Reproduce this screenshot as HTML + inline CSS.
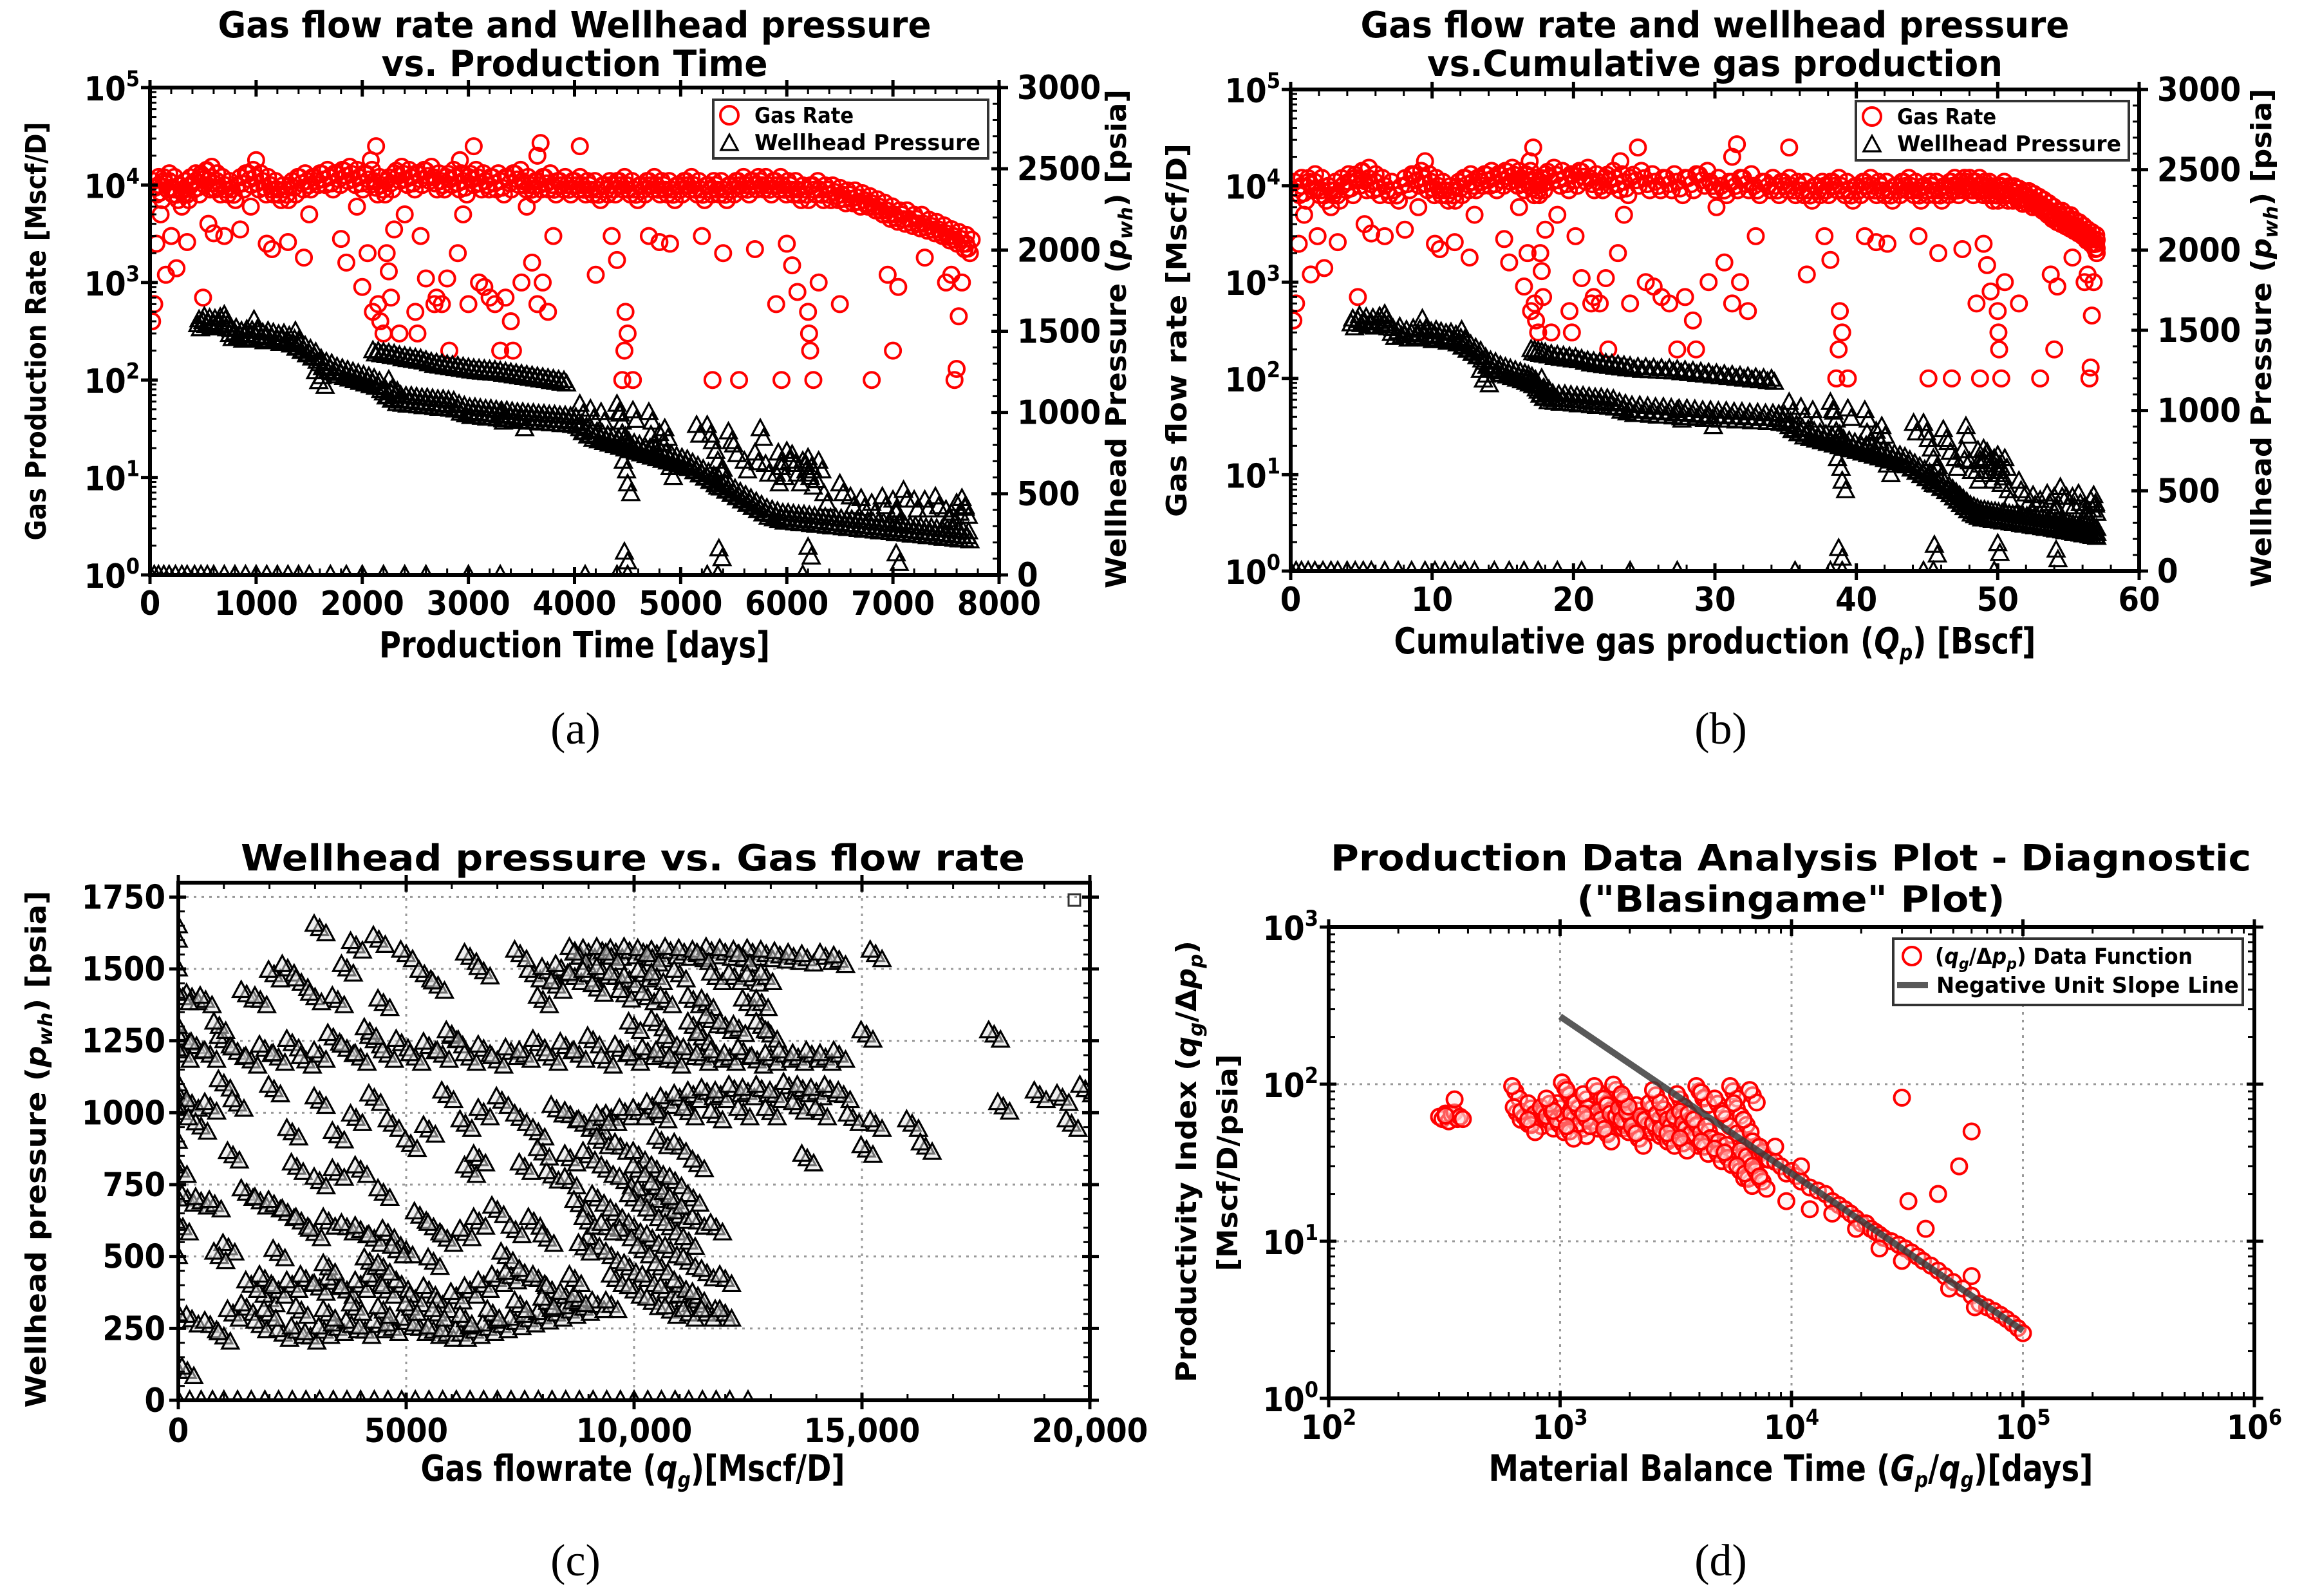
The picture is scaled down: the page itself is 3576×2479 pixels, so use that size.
<!DOCTYPE html>
<html><head><meta charset="utf-8"><title>Gas well production analysis plots</title>
<style>
html,body{margin:0;padding:0;background:#fff;}
svg{display:block;}
.tk{font-family:"DejaVu Sans Condensed","Liberation Sans Narrow","DejaVu Sans",sans-serif;font-weight:bold;font-size:52px;fill:#000;}
.ttl{font-family:"DejaVu Sans Condensed","Liberation Sans Narrow","DejaVu Sans",sans-serif;font-weight:bold;font-size:56px;fill:#000;}
.yl{font-family:"DejaVu Sans","Liberation Sans",sans-serif;font-weight:bold;font-size:44px;fill:#000;}
.lg{font-family:"DejaVu Sans Condensed","Liberation Sans Narrow","DejaVu Sans",sans-serif;font-weight:bold;font-size:34px;fill:#000;}
.cap{font-family:"Liberation Serif",serif;font-size:70px;fill:#000;}
</style></head>
<body>
<svg id="fig" xmlns="http://www.w3.org/2000/svg" width="3576" height="2479" viewBox="0 0 3576 2479">
<rect x="0" y="0" width="3576" height="2479" fill="#fff"/>
<defs>
<clipPath id="clipA"><rect x="233" y="136" width="1319" height="757"/></clipPath>
<clipPath id="clipB"><rect x="2005" y="139" width="1318" height="748"/></clipPath>
<clipPath id="clipC"><rect x="277" y="1371" width="1416" height="804"/></clipPath>
<clipPath id="clipD"><rect x="2064" y="1440" width="1438" height="732"/></clipPath>
</defs>
</svg>
<script>
// ---------- Panel (a)/(b) data: gas rate band (days, Mscf/D) ----------
const aBandDays=[30,80,130,180,230,280,330,380,430,480,530,580,630,700,770,850,920,990,1060,1130,1200,1270,1340,1410,1480,1550,1620,1690,1760,1830,1900,1970,2040,2110,2180,2250,2320,2390,2460,2530,2600,2670,2740,2810,2880,2950,3020,3090,3160,3230,3300,3370,3440,3510,3580,3650,3720,3790,3860,3930,4000,4070,4140,4210,4280,4350,4420,4490,4560,4630,4700,4770,4840,4910,4980,5050,5120,5190,5260,5330,5400,5470,5540,5610,5680,5750,5820,5890,5960,6030,6100,6170,6240,6310,6380,6450,6520,6590,6660,6730,6800,6870,6940,7010,7080,7150,7220,7290,7360,7430,7500,7570,7640,7690];
const aBandRateHi=[11000,10000,12000,11000,9000,10000,9000,12000,11000,13000,14000,12000,11000,10000,9000,12000,13000,12000,11000,10000,9000,9000,11000,12000,11000,12000,13000,12000,13000,14000,13000,12000,13000,11000,10000,12000,14000,13000,12000,13000,14000,12000,11000,13000,12000,11000,13000,12000,11000,12000,11000,12000,13000,11000,10000,11000,12000,10000,11000,10000,11000,10000,10000,9000,10000,10000,11000,10000,9000,10000,11000,10000,10000,9000,10000,11000,10000,9000,10000,10000,9000,10000,11000,10000,11000,11000,10000,11000,10000,10000,9000,9000,10000,9000,9000,8500,8000,8000,7500,7000,6500,6000,5500,5000,5000,4500,4500,4000,3800,3500,3200,3000,2800,2500];
const aBandRateLo=[8000,7000,9000,8000,7000,8000,7000,9000,8000,10000,9000,9000,8000,8000,7000,9000,10000,9000,8000,8000,7000,7000,8000,9000,9000,10000,10000,9000,10000,11000,10000,9000,10000,8000,8000,9000,11000,10000,9000,10000,11000,9000,9000,10000,9000,8000,10000,9000,9000,9000,8000,9000,10000,9000,8000,9000,9000,8000,9000,8000,9000,8000,8000,7000,8000,8000,9000,8000,7000,8000,9000,8000,8000,7000,8000,9000,8000,7000,8000,8000,7000,8000,9000,8000,9000,9000,8000,9000,8000,8000,7000,7000,8000,7000,7000,7000,6500,6500,6000,6000,5500,5000,4500,4200,4000,3800,3600,3400,3200,3000,2700,2500,2200,2000];
// gas rate outliers
const aOutDays=[20,40,60,100,150,200,250,300,350,500,550,600,700,850,950,1100,1150,1300,1450,1500,1800,1850,1950,2000,2050,2100,2130,2150,2170,2200,2230,2250,2270,2300,2350,2400,2500,2520,2550,2600,2680,2700,2750,2800,2820,2900,2950,3000,3050,3100,3150,3200,3250,3300,3350,3400,3420,3500,3550,3600,3650,3680,3700,3750,3800,4050,4200,4350,4400,4450,4470,4480,4500,4550,4700,4800,4900,5200,5300,5400,5550,5700,5900,5950,6000,6050,6100,6200,6210,6220,6250,6300,6500,6800,6950,7000,7050,7300,7500,7550,7580,7600,7620,7650,3650,2080,1000,2920];
const aOutRate=[400,600,2500,5000,1200,3000,1400,6000,2600,700,4000,3200,3000,3500,6000,2500,2200,2600,1800,5000,2800,1600,6000,900,2000,500,25000,600,400,300,2000,1300,700,3500,300,5000,500,300,3000,1100,600,700,600,1100,200,2000,5000,600,25000,1000,900,700,600,200,700,400,200,1000,6000,1600,600,27000,1000,500,3000,25000,1200,3000,1700,100,200,500,300,100,3000,2600,2500,3000,100,2000,100,2200,600,100,2500,1500,800,500,300,200,100,1000,600,100,1200,200,900,1800,1000,1200,100,130,450,1000,20000,18000,18000,18000];
// wellhead pressure (days, psia)
const aPresDays=[450,500,550,600,650,700,750,800,850,900,950,1000,1050,1100,1150,1200,1250,1300,1350,1400,1450,1500,1550,1600,1650,1700,1750,1800,1850,1900,1950,2000,2050,2100,2150,2200,2250,2300,2350,2400,2450,2500,2550,2600,2650,2700,2750,2800,2850,2900,2950,3000,3050,3100,3150,3200,3250,3300,3350,3400,3450,3500,3550,3600,3650,3700,3750,3800,3850,3900,3950,4000,4050,4100,4150,4200,4250,4300,4350,4400,4450,4500,4550,4600,4650,4700,4750,4800,4850,4900,4950,5000,5050,5100,5150,5200,5250,5300,5350,5400,5450,5500,5550,5600,5650,5700,5750,5800,5850,5900,5950,6000,6050,6100,6150,6200,6250,6300,6350,6400,6450,6500,6550,6600,6650,6700,6750,6800,6850,6900,6950,7000,7050,7100,7150,7200,7250,7300,7350,7400,7450,7500,7550,7600,7650,7700];
const aPres=[1540,1560,1550,1545,1555,1540,1480,1490,1470,1480,1475,1470,1460,1470,1460,1450,1455,1440,1420,1400,1380,1360,1340,1300,1280,1270,1250,1240,1230,1220,1210,1200,1190,1180,1160,1120,1100,1080,1075,1070,1070,1065,1060,1060,1055,1050,1050,1045,1040,1020,1010,1000,1000,995,990,990,985,980,980,975,970,970,965,965,960,960,955,955,950,950,945,940,900,880,860,850,840,830,820,810,800,790,780,770,760,750,740,730,720,710,700,690,680,660,640,620,600,580,560,540,520,500,480,460,440,420,400,380,370,360,350,350,345,340,340,335,330,330,325,320,320,315,310,310,305,300,300,295,290,290,285,280,280,275,270,270,265,260,260,255,250,250,245,240,240,235];
const aUpperDays=[2100,2150,2200,2250,2300,2350,2400,2450,2500,2550,2600,2650,2700,2750,2800,2850,2900,2950,3000,3050,3100,3150,3200,3250,3300,3350,3400,3450,3500,3550,3600,3650,3700,3750,3800,3850,3900];
const aUpperPres=[1380,1375,1370,1365,1360,1350,1345,1340,1335,1330,1320,1310,1305,1300,1295,1290,1285,1280,1275,1270,1268,1265,1262,1260,1255,1250,1245,1240,1235,1230,1225,1220,1215,1210,1205,1200,1195];
const aScatDays=[700,980,1370,1560,1620,2250,2330,3300,3500,4050,4150,4250,4400,4420,4450,4460,4480,4500,4550,4700,4720,4800,4850,4900,5150,5250,5300,5320,5350,5400,5450,5500,5600,5700,5750,5800,5900,5920,5950,6000,6050,6100,6150,6180,6200,6220,6250,6300,6350,6500,6600,6700,6800,6900,7000,7030,7100,7200,7300,7400,7500,7550,7600,7650,7680,4470,5360,6200,7030];
const aScatPres=[1600,1570,1500,1250,1220,1200,1130,1000,960,1050,1020,1000,1050,1000,870,700,850,560,1010,1000,860,870,900,660,920,920,820,600,700,650,880,800,700,750,900,680,620,750,660,760,740,620,700,680,720,600,640,700,500,560,480,470,440,480,460,380,520,460,460,480,400,380,440,470,420,140,160,170,130];
const aZeroDays=[0,40,80,130,180,240,300,350,420,480,540,600,700,800,900,1000,1100,1200,1300,1400,1500,1700,1850,2000,2200,2400,2600,3000,3300,4100,4400,4500,5250,5350,6150];
// cumulative production at given days (Bscf) for panel (b)
const cumDays=[0,1000,2000,2300,3000,3900,4500,5000,5500,6200,7000,7700];
const cumBscf=[0,9.5,16.5,18,24,34,39,43,46.5,50,54,57];

// ---------- Panel (c) data: gas flowrate (Mscf/D) vs wellhead pressure (psia) ----------
const cRate=[8700,9000,9300,9600,9900,10200,10500,10800,11100,11400,11700,12000,12300,12600,12900,13200,13500,13800,14200,14500,15300,8800,9500,10400,11500,12400,
7800,8100,8400,8700,9000,9300,9600,9900,10200,10500,11000,11800,12200,12600,12900,8300,9200,9800,10300,10700,11300,11600,12500,12800,
10000,10500,11300,11700,12000,12300,12800,13000,11500,10800,
100,400,700,1000,1300,1600,1900,2200,2500,2800,3100,3400,3700,4000,4300,4600,4900,5200,5500,5800,6100,6400,6700,7000,7300,7600,7900,8200,8500,8800,9100,9400,9700,10000,10300,10600,10900,11200,11500,11800,12100,12400,12700,13000,13300,13600,13900,14200,14500,15100,17900,
300,600,900,1500,1800,2100,2400,2700,3000,3100,3500,3700,3900,4400,4500,5000,5400,5700,6400,6700,7500,8000,4200,6000,
50,300,500,700,1000,1300,2100,2500,3100,3500,3900,4300,4700,5100,5500,5900,6300,6700,7100,7500,7900,8300,8600,8900,9200,9500,9800,10100,10400,10700,11000,11300,11600,11900,12200,12500,12800,13100,13400,13700,14000,14300,14600,9300,10600,11200,11800,12400,13000,13600,14100,14800,15300,15100,16100,16400,18100,18900,19400,19600,19900,13800,
1200,2600,3100,4000,4500,6400,7600,8200,8600,6600,3500,8000,
9000,9400,9800,10200,10600,11000,11400,11800,9200,9600,10000,10400,10800,11200,11600,12000,9100,9500,9900,10300,10700,11100,11500,11900,9300,9700,10100,10500,10900,11300,9800,10200,10600,11000,11400,10000,10400,10800,11200,10100,10500,10900,9600,10000,10400,10800,11200,11600,12000,8600,8800,9000,8900,9400,10600,11000,11400,
200,500,800,1100,1500,1800,2100,2400,2700,3000,3300,3700,4000,4300,4600,5000,5300,5600,5900,6300,6600,7000,7400,7800,8100,2200,4800,7200,
300,700,900,1000,1200,1500,1800,2000,2300,2600,2900,3200,3500,3800,4100,4400,4700,5000,5300,5600,5900,6200,6500,6800,7100,7400,7700,8000,8300,8600,8900,9200,9500,1600,1900,2200,2500,2800,3100,3400,3700,4000,4300,4600,4900,5200,5500,5800,6100,6400,6700,7000,7300,7600,7900,8200,8500,8800,2000,2700,3300,3900,4500,5100,5700,6300,6900,7500,8100,8700,4200,4500,5600,3300,
0,0,0,0,0,0,0,0,0,100,50,100,80,120,200,0];
const cPres=[1560,1555,1560,1555,1560,1555,1550,1560,1555,1550,1560,1555,1550,1555,1550,1545,1540,1535,1540,1530,1550,1540,1540,1535,1540,1535,
1480,1490,1500,1470,1480,1490,1470,1460,1480,1470,1480,1470,1470,1465,1470,1440,1430,1410,1400,1390,1390,1380,1380,1380,
1300,1310,1300,1320,1300,1290,1300,1270,1260,1250,
1260,1230,1200,1250,1210,1180,1220,1190,1240,1180,1200,1260,1220,1190,1250,1200,1240,1190,1230,1200,1250,1190,1220,1180,1210,1200,1240,1190,1230,1200,1250,1180,1220,1190,1210,1200,1180,1210,1190,1200,1190,1210,1180,1190,1200,1190,1200,1190,1200,1270,1270,
1400,1390,1300,1410,1390,1480,1500,1450,1400,1640,1390,1500,1580,1600,1380,1550,1480,1440,1540,1490,1550,1390,1280,1270,
1050,1030,950,1020,1100,1030,1080,930,1040,920,980,1050,960,890,940,1060,960,1000,1040,980,930,1010,990,960,950,980,1000,1000,1020,1040,1050,1060,1070,1060,1080,1070,1080,1060,1090,1080,1070,1080,1060,980,990,1000,990,1000,1000,1020,1000,980,960,870,960,880,1020,1060,1050,960,1080,840,
850,810,760,800,720,800,810,780,840,840,790,860,
850,800,760,720,680,640,620,600,700,650,600,560,520,480,440,420,550,500,460,420,380,350,330,300,900,880,850,800,760,700,580,520,460,400,360,700,650,600,550,800,740,690,420,380,340,310,300,300,300,760,680,620,530,600,900,880,820,
700,690,680,530,720,690,680,650,620,580,620,600,590,560,580,520,640,600,560,580,620,660,590,620,560,510,520,500,
280,260,500,220,300,320,260,350,230,240,220,240,250,260,240,260,250,270,250,240,230,230,240,250,260,270,280,290,300,310,320,330,330,400,420,380,400,420,390,410,380,400,420,380,400,350,380,330,360,380,400,420,430,440,420,380,360,350,300,310,300,320,310,320,300,280,300,330,340,420,480,460,480,460,
100,300,500,700,900,1100,1300,1500,1650,1400,800,600,1000,1200,100,1600];
const cZeroRate=[0,250,500,750,1000,1300,1600,1900,2200,2500,2800,3100,3400,3700,4000,4300,4600,4900,5200,5500,5800,6100,6400,6700,7000,7300,7600,7900,8200,8500,8800,9100,9400,9700,10000,10300,10600,10900,11200,11500,11800,12100,12500];

// ---------- Panel (d) data: material balance time (days) vs productivity index ----------
const dTime=[300,310,320,330,340,350,360,370,350,320,380,
640,650,700,750,800,850,900,950,1000,1000,1050,1100,1150,1200,1250,1300,1350,1400,1450,1500,1550,1600,1650,1700,1750,1800,1850,1900,1950,2000,2100,2200,2300,2400,2500,2600,2700,2800,2900,3000,3100,3200,3300,3400,3500,3600,3700,3800,3900,4000,4200,4400,4600,4800,5000,5200,5400,5600,5800,6000,6200,6400,6600,6800,7000,750,900,1100,1300,1600,1900,2200,2600,3000,3400,4200,4800,5300,6000,6500,
7500,8000,8500,9000,9500,10000,10500,11000,12000,13000,14000,15000,16000,17000,18000,19000,20000,21000,22000,23000,24000,25000,27000,29000,31000,33000,35000,37000,40000,43000,46000,50000,55000,60000,65000,70000,75000,80000,85000,90000,95000,100000,9500,12000,15000,19000,24000,30000,48000,60000,62000,11000,8500,7000,7500,
30000,60000,53000,43000,32000,38000];
const dIndex=[62,60,65,58,64,66,60,62,80,63,60,
90,66,62,70,60,66,58,62,55,70,95,85,60,70,52,80,65,58,90,62,55,75,68,60,92,58,65,55,72,62,50,68,58,55,70,52,60,48,64,55,50,58,80,62,52,48,60,45,55,90,82,50,42,75,40,60,38,90,70,45,35,55,32,85,40,55,75,50,60,48,80,45,85,45,42,40,36,34,28,25,
37,33,32,30,27,28,26,24,22,21,20,18,17,16,15,14,13,13,12,11.5,11,10.5,10,9.5,9,8.5,8,7.5,7,6.5,6,5.5,5,4.5,4,3.8,3.6,3.4,3.2,3,2.8,2.6,18,16,15,12,9,7.5,5,6,3.8,30,40,28,24,
82,50,30,20,18,12];
const dLineTime=[1000,100000];
const dLineIndex=[270,2.7];

// ---------- tick label arrays ----------
const aXTicks=[0,1000,2000,3000,4000,5000,6000,7000,8000];
const logExpAB=[0,1,2,3,4,5];
const presTicks=[0,500,1000,1500,2000,2500,3000];
const bXTicks=[0,10,20,30,40,50,60];
const cXTicks=[0,5000,10000,15000,20000];
const cXTickLabels=['0','5000','10,000','15,000','20,000'];
const cYTicks=[0,250,500,750,1000,1250,1500,1750];
const dXExp=[2,3,4,5,6];
const dYExp=[0,1,2,3];

// ---------- drawing ----------
const NS='http://www.w3.org/2000/svg';
const svg=document.getElementById('fig');
function mk(tag,parent){const e=document.createElementNS(NS,tag);parent.appendChild(e);return e;}
function group(parent){return mk('g',parent);}
const lg10=v=>Math.log10(v);

function panel(x0,x1,y0,y1){return {x0,x1,y0,y1};}
const PA=panel(233,1552,136,893), PB=panel(2005,3323,139,887), PC=panel(277,1693,1371,2175), PD=panel(2064,3502,1440,2172);
const axA={sx:t=>PA.x0+t/8000*(PA.x1-PA.x0), syL:q=>PA.y1-lg10(q)/5*(PA.y1-PA.y0), syR:p=>PA.y1-p/3000*(PA.y1-PA.y0)};
function gpAt(day){for(let i=1;i<cumDays.length;i++){if(day<=cumDays[i]){const f=(day-cumDays[i-1])/(cumDays[i]-cumDays[i-1]);return cumBscf[i-1]+f*(cumBscf[i]-cumBscf[i-1]);}}return cumBscf[cumBscf.length-1];}
const axB={sx:g=>PB.x0+g/60*(PB.x1-PB.x0), syL:q=>PB.y1-lg10(q)/5*(PB.y1-PB.y0), syR:p=>PB.y1-p/3000*(PB.y1-PB.y0)};
const axC={sx:q=>PC.x0+q/20000*(PC.x1-PC.x0), sy:p=>PC.y1-p/1800*(PC.y1-PC.y0)};
const axD={sx:t=>PD.x0+(lg10(t)-2)/4*(PD.x1-PD.x0), sy:v=>PD.y1-lg10(v)/3*(PD.y1-PD.y0)};

function circ(g,x,y,color){const c=mk('circle',g);c.setAttribute('cx',x);c.setAttribute('cy',y);c.setAttribute('r',12);c.setAttribute('fill','none');c.setAttribute('stroke',color);c.setAttribute('stroke-width',4);return c;}
function tri(g,x,y,fill){const p=mk('polygon',g);p.setAttribute('points',`${x},${y-14} ${x-13},${y+10} ${x+13},${y+10}`);p.setAttribute('fill',fill);p.setAttribute('stroke','#000');p.setAttribute('stroke-width',3.2);return p;}
function line(g,x1,y1,x2,y2,w,col,dash){const l=mk('line',g);l.setAttribute('x1',x1);l.setAttribute('y1',y1);l.setAttribute('x2',x2);l.setAttribute('y2',y2);l.setAttribute('stroke',col||'#000');l.setAttribute('stroke-width',w);if(dash)l.setAttribute('stroke-dasharray',dash);return l;}
function txt(g,x,y,s,cls,anchor){const t=mk('text',g);t.setAttribute('x',x);t.setAttribute('y',y);t.setAttribute('class',cls);t.setAttribute('text-anchor',anchor||'middle');t.textContent=s;return t;}
function powTxt(g,x,y,e,anchor){const t=mk('text',g);t.setAttribute('x',x);t.setAttribute('y',y);t.setAttribute('class','tk');t.setAttribute('text-anchor',anchor);t.appendChild(document.createTextNode('10'));const s=mk('tspan',t);s.setAttribute('dy','-22');s.setAttribute('font-size','34');s.textContent=String(e);return t;}
function frame(g,P){const r=mk('rect',g);r.setAttribute('x',P.x0);r.setAttribute('y',P.y0);r.setAttribute('width',P.x1-P.x0);r.setAttribute('height',P.y1-P.y0);r.setAttribute('fill','none');r.setAttribute('stroke','#000');r.setAttribute('stroke-width',6);return r;}
function xTick(g,P,x,major){if(major){line(g,x,P.y1-12,x,P.y1+14,5);line(g,x,P.y0-12,x,P.y0+14,5);}else{line(g,x,P.y1-10,x,P.y1,3);line(g,x,P.y0,x,P.y0+10,3);}}
function yTickL(g,P,y,major){if(major)line(g,P.x0-14,y,P.x0+12,y,5);else line(g,P.x0,y,P.x0+10,y,3);}
function yTickR(g,P,y,major){if(major)line(g,P.x1-12,y,P.x1+14,y,5);else line(g,P.x1-10,y,P.x1,y,3);}

function rotLabel(g,x,y,len,cls,parts){const t=mk('text',g);t.setAttribute('class',cls);t.setAttribute('text-anchor','middle');t.setAttribute('transform',`translate(${x},${y}) rotate(-90)`);t.setAttribute('textLength',len);t.setAttribute('lengthAdjust','spacingAndGlyphs');parts.forEach(p=>{const s=mk('tspan',t);s.textContent=p[0];if(p[1])s.setAttribute('font-style','italic');if(p[2])s.setAttribute('font-size',p[2]);if(p[3])s.setAttribute('dy',p[3]);});return t;}
function fitTxt(g,x,y,len,cls,parts){const t=mk('text',g);t.setAttribute('class',cls);t.setAttribute('text-anchor','middle');t.setAttribute('x',x);t.setAttribute('y',y);t.setAttribute('textLength',len);t.setAttribute('lengthAdjust','spacingAndGlyphs');parts.forEach(p=>{const s=mk('tspan',t);s.textContent=p[0];if(p[1])s.setAttribute('font-style','italic');if(p[2])s.setAttribute('font-size',p[2]);if(p[3])s.setAttribute('dy',p[3]);});return t;}

// ===== Panel A & B (shared structure) =====
function drawRatePressure(P,ax,xOf,prefix,xTicks,xMinorStep,xMax,clip,titles,xlabel,ylabel,legendBox){
  const g=group(svg);
  
  
  titles.forEach((tl,i)=>{const t=fitTxt(g,(P.x0+P.x1)/2,58+i*60,tl[1],'ttl',[[tl[0]]]);
    
    });
  const dg=group(g);dg.setAttribute('clip-path','url(#'+clip+')');
  
  
  const rg=group(dg);
  
  
  const addR=(d,q)=>{const c=circ(rg,ax.sx(xOf(d)),ax.syL(q),'#ff0000');
    
    };
  for(let i=0;i<Math.min(aBandDays.length,aBandRateHi.length,aBandRateLo.length);i++){
    addR(aBandDays[i],aBandRateHi[i]);
    addR(aBandDays[i]+35,aBandRateLo[i]);
    addR(aBandDays[i]+18,Math.sqrt(aBandRateHi[i]*aBandRateLo[i]));
    addR(aBandDays[i]+52,aBandRateHi[i]*1.1);
  }
  for(let i=0;i<Math.min(aOutDays.length,aOutRate.length);i++)addR(aOutDays[i],aOutRate[i]);
  const pg=group(dg);
  
  
  const addP=(d,p)=>{const m=tri(pg,ax.sx(xOf(d)),ax.syR(p),'none');
    
    };
  for(let i=0;i<Math.min(aPresDays.length,aPres.length);i++){addP(aPresDays[i],aPres[i]);addP(aPresDays[i]+25,aPres[i]-25);addP(aPresDays[i]+12,aPres[i]+30);}
  for(let i=0;i<Math.min(aUpperDays.length,aUpperPres.length);i++){addP(aUpperDays[i],aUpperPres[i]);addP(aUpperDays[i]+25,aUpperPres[i]-20);}
  for(let i=0;i<Math.min(aScatDays.length,aScatPres.length);i++){addP(aScatDays[i],aScatPres[i]);addP(aScatDays[i]+30,aScatPres[i]-60);}
  for(let i=0;i<aZeroDays.length;i++)addP(aZeroDays[i],0);
  const axg=group(g);
  
  
  frame(axg,P);
  for(let v=0;v<=xMax+1e-9;v+=xMinorStep){const major=xTicks.some(t=>Math.abs(t-v)<1e-6);xTick(axg,P,ax.sx(v),major);}
  xTicks.forEach(v=>{const t=txt(axg,ax.sx(v),P.y1+62,String(v),'tk');
    
    });
  logExpAB.forEach(e=>{const y=ax.syL(Math.pow(10,e));yTickL(axg,P,y,true);
    if(e<5){for(let k=2;k<10;k++)yTickL(axg,P,ax.syL(k*Math.pow(10,e)),false);}
    const t=powTxt(axg,P.x0-16,y+20,e,'end');
    
    });
  for(let p=0;p<=3000;p+=100){yTickR(axg,P,ax.syR(p),p%500===0);}
  presTicks.forEach(p=>{const t=txt(axg,P.x1+28,ax.syR(p)+18,String(p),'tk','start');
    
    });
  const xl=fitTxt(axg,(P.x0+P.x1)/2,P.y1+128,xlabel[1],'ttl',xlabel[0]);
  
  
  const yl=rotLabel(axg,ylabel[1],(P.y0+P.y1)/2+ (ylabel[3]||0),ylabel[2],'yl',ylabel[0]);
  
  
  const yr=rotLabel(axg,ylabel[4],(P.y0+P.y1)/2+12,775,'yl',[['Wellhead Pressure ('],['p',true],['wh',true,'30','10'],[') [psia]',false,null,'-10']]);
  
  
  const L=legendBox;
  const lgG=group(g);
  
  
  const r=mk('rect',lgG);r.setAttribute('x',L[0]);r.setAttribute('y',L[1]);r.setAttribute('width',L[2]);r.setAttribute('height',L[3]);r.setAttribute('fill','#fff');r.setAttribute('stroke','#333');r.setAttribute('stroke-width',4);
  const e1=group(lgG);
  
  
  circ(e1,L[0]+25,L[1]+24,'#ff0000').setAttribute('r',14);
  txt(e1,L[0]+64,L[1]+36,'Gas Rate','lg','start');
  const e2=group(lgG);
  
  
  tri(e2,L[0]+25,L[1]+68,'none');
  const t2=txt(e2,L[0]+64,L[1]+78,'Wellhead Pressure','lg','start');
  t2.setAttribute('textLength',L[2]-76);t2.setAttribute('lengthAdjust','spacingAndGlyphs');
}
drawRatePressure(PA,axA,d=>d,'panel-a',aXTicks,200,8000,'clipA',
  [['Gas flow rate and Wellhead pressure',1108],['vs. Production Time',600]],
  [[['Production Time [days]']],607],
  [[['Gas Production Rate [Mscf/D]']],71,650,0,1749],
  [1108,155,427,91]);
drawRatePressure(PB,axB,d=>gpAt(d),'panel-b',bXTicks,2,60,'clipB',
  [['Gas flow rate and wellhead pressure',1101],['vs.Cumulative gas production',894]],
  [[['Cumulative gas production ('],['Q',true],['p',true,'34','10'],[') [Bscf]',false,null,'-10']],997],
  [[['Gas flow rate [Mscf/D]']],1843,580,0,3528],
  [2883,157,424,92]);

// ===== Panel C =====
(function(){
  const P=PC,ax=axC;
  const g=group(svg);
  
  
  const tt=fitTxt(g,983,1352,1218,'ttl',[['Wellhead pressure vs. Gas flow rate']]);
  
  
  const grid=group(g);
  
  
  cXTicks.forEach(v=>line(grid,ax.sx(v),P.y0,ax.sx(v),P.y1,3,'#999','4 8'));
  cYTicks.forEach(v=>line(grid,P.x0,ax.sy(v),P.x1,ax.sy(v),3,'#999','4 8'));
  const dg=group(g);dg.setAttribute('clip-path','url(#clipC)');
  
  
  const addC=(q,p)=>{const m=tri(dg,ax.sx(q),ax.sy(p),'rgba(225,225,225,0.5)');
    
    };
  for(let i=0;i<Math.min(cRate.length,cPres.length);i++){
    addC(cRate[i],cPres[i]);
    if(cRate[i]>0){addC(cRate[i]+140,cPres[i]-18);addC(cRate[i]-120,cPres[i]+15);}
  }
  for(let i=0;i<cZeroRate.length;i++){const m=tri(dg,ax.sx(cZeroRate[i]),ax.sy(0),'none');
    
    }
  const sq=mk('rect',g);sq.setAttribute('x',1660);sq.setAttribute('y',1389);sq.setAttribute('width',18);sq.setAttribute('height',18);sq.setAttribute('fill','none');sq.setAttribute('stroke','#333');sq.setAttribute('stroke-width',3);
  
  
  const axg=group(g);
  
  
  frame(axg,P);
  for(let v=0;v<=20000;v+=1000)xTick(axg,P,ax.sx(v),v%5000===0);
  for(let v=0;v<=1800;v+=50){const y=ax.sy(v);const maj=v%250===0;yTickL(axg,P,y,maj);yTickR(axg,P,y,maj);}
  cXTicks.forEach((v,i)=>{const t=txt(axg,ax.sx(v),2240,cXTickLabels[i],'tk');
    
    });
  cYTicks.forEach(v=>{const t=txt(axg,P.x0-20,ax.sy(v)+18,String(v),'tk','end');
    
    });
  const xl=fitTxt(axg,983,2300,659,'ttl',[['Gas flowrate ('],['q',true],['g',true,'34','10'],[')[Mscf/D]',false,null,'-10']]);
  
  
  const yl=rotLabel(axg,71,1785,803,'yl',[['Wellhead pressure ('],['p',true],['wh',true,'30','10'],[') [psia]',false,null,'-10']]);
  
  
})();

// ===== Panel D =====
(function(){
  const P=PD,ax=axD;
  const g=group(svg);
  
  
  const t1=fitTxt(g,2782,1352,1430,'ttl',[['Production Data Analysis Plot - Diagnostic']]);
  
  
  const t2=fitTxt(g,2782,1416,665,'ttl',[['("Blasingame" Plot)']]);
  
  
  const grid=group(g);
  
  
  dXExp.forEach(e=>line(grid,ax.sx(Math.pow(10,e)),P.y0,ax.sx(Math.pow(10,e)),P.y1,3,'#999','4 8'));
  dYExp.forEach(e=>line(grid,P.x0,ax.sy(Math.pow(10,e)),P.x1,ax.sy(Math.pow(10,e)),3,'#999','4 8'));
  const dg=group(g);dg.setAttribute('clip-path','url(#clipD)');
  
  
  const sg=group(dg);
  
  
  const addD=(t,v)=>{const c=circ(sg,ax.sx(t),ax.sy(v),'#ff0000');c.setAttribute('fill','rgba(255,230,230,0.4)');
    
    };
  for(let i=0;i<Math.min(dTime.length,dIndex.length);i++){
    addD(dTime[i],dIndex[i]);
    if(dTime[i]>600&&dTime[i]<8000){addD(dTime[i]*1.04,dIndex[i]*0.9);addD(dTime[i]*0.97,dIndex[i]*1.08);}
  }
  const ln=line(dg,ax.sx(dLineTime[0]),ax.sy(dLineIndex[0]),ax.sx(dLineTime[1]),ax.sy(dLineIndex[1]),10,'rgba(60,60,60,0.85)');
  
  
  const axg=group(g);
  
  
  frame(axg,P);
  dXExp.forEach(e=>{xTick(axg,P,ax.sx(Math.pow(10,e)),true);
    if(e<6)for(let k=2;k<10;k++)xTick(axg,P,ax.sx(k*Math.pow(10,e)),false);
    const t=powTxt(axg,ax.sx(Math.pow(10,e)),2235,e,'middle');
    
    });
  dYExp.forEach(e=>{const y=ax.sy(Math.pow(10,e));yTickL(axg,P,y,true);yTickR(axg,P,y,true);
    if(e<3)for(let k=2;k<10;k++){const yy=ax.sy(k*Math.pow(10,e));yTickL(axg,P,yy,false);yTickR(axg,P,yy,false);}
    const t=powTxt(axg,P.x0-16,y+20,e,'end');
    
    });
  const xl=fitTxt(axg,2782,2300,939,'ttl',[['Material Balance Time ('],['G',true],['p',true,'34','10'],['/',false,null,'-10'],['q',true],['g',true,'34','10'],[')[days]',false,null,'-10']]);
  
  
  const y1=rotLabel(axg,1858,1804,686,'yl',[['Productivity Index ('],['q',true],['g',true,'30','10'],['/Δ',false,null,'-10'],['p',true],['p',true,'30','10'],[')',false,null,'-10']]);
  
  
  const y2=rotLabel(axg,1922,1806,337,'yl',[['[Mscf/D/psia]']]);
  
  
  const lgG=group(g);
  
  
  const r=mk('rect',lgG);r.setAttribute('x',2941);r.setAttribute('y',1458);r.setAttribute('width',543);r.setAttribute('height',103);r.setAttribute('fill','#fff');r.setAttribute('stroke','#333');r.setAttribute('stroke-width',4);
  const e1=group(lgG);
  
  
  circ(e1,2970,1485,'#ff0000').setAttribute('r',14);
  fitTxt(e1,3206,1497,400,'lg',[['('],['q',true],['g',true,'24','8'],['/Δ',false,null,'-8'],['p',true],['p',true,'24','8'],[') Data Function',false,null,'-8']]);
  const e2=group(lgG);
  
  
  line(e2,2947,1530,2995,1530,10,'rgba(60,60,60,0.85)');
  fitTxt(e2,3243,1542,470,'lg',[['Negative Unit Slope Line']]);
})();

// captions
[['(a)',894,1155],['(b)',2673,1155],['(c)',894,2447],['(d)',2673,2447]].forEach(c=>{const t=txt(svg,c[1],c[2],c[0],'cap');
  
  });
</script>
</body></html>
